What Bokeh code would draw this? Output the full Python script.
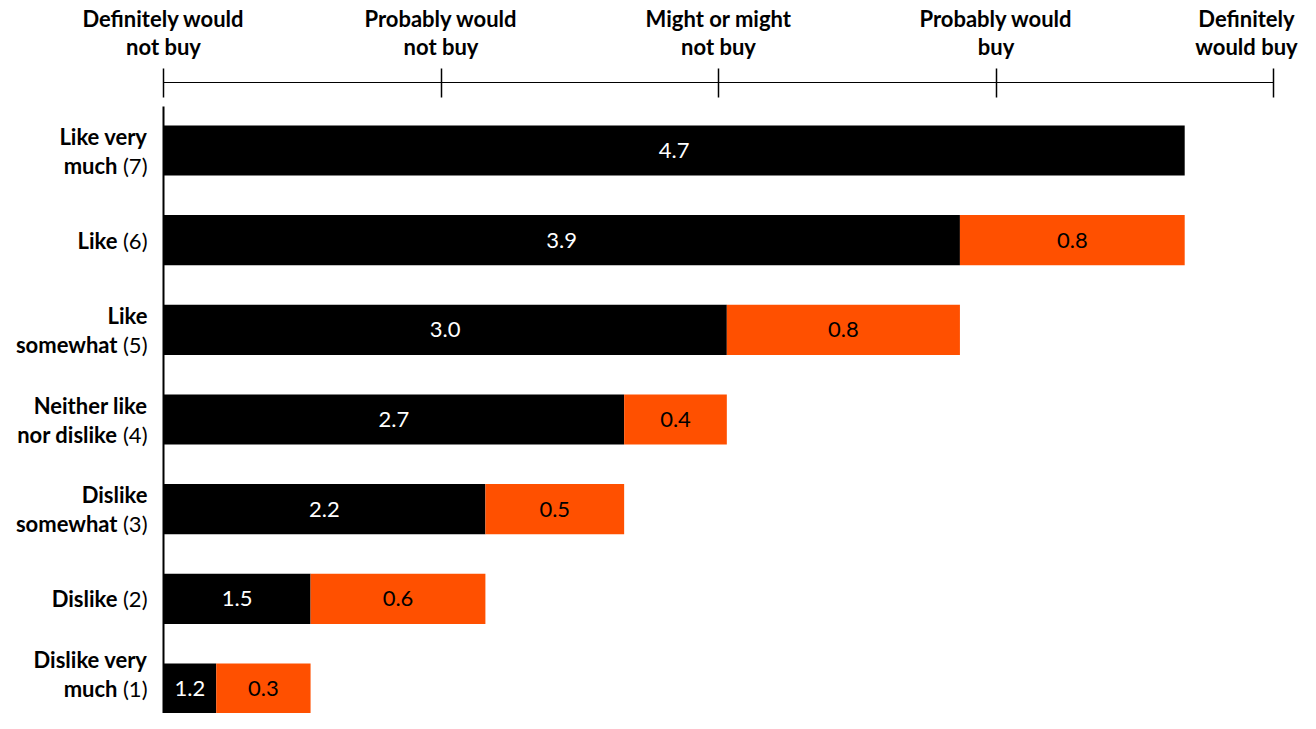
from bokeh.plotting import figure
from bokeh.models import Range1d, LinearAxis, FixedTicker, ColumnDataSource
from bokeh.core.properties import value
from bokeh.embed import file_html
from bokeh.resources import INLINE

# ---- data (bottom to top) ----
cat_lines = [["Dislike very", "much"], ["Dislike"], ["Dislike", "somewhat"],
             ["Neither like", "nor dislike"], ["Like", "somewhat"], ["Like"],
             ["Like very", "much"]]
cat_codes = ["(1)", "(2)", "(3)", "(4)", "(5)", "(6)", "(7)"]
mean_buy = [1.19, 1.53, 2.16, 2.66, 3.03, 3.87, 4.68]
gap_to_next = [0.34, 0.63, 0.50, 0.37, 0.84, 0.81, 0.0]
scale_ticks = [1, 2, 3, 4, 5]
scale_labels = [["Definitely would", "not buy"], ["Probably would", "not buy"],
                ["Might or might", "not buy"], ["Probably would", "buy"],
                ["Definitely", "would buy"]]

BLACK = "#000000"
ORANGE = "#FF5000"
FONT = "Lato"

# ---- geometry (screen layout, px) ----
W, H = 1300, 713
PX_PER_X = 277.5      # px per scale point
X0_PX = 163           # px of scale value 1
PX_PER_Y = 89.667     # px per category
TOP_CENTER_PX = 150   # px of top bar centre
AXIS_TOP_PX = 82
LEFT_AXIS_TOP_PX = 106

n = len(mean_buy)
ys = list(range(n))

x_start = 1 - X0_PX / PX_PER_X
x_end = 1 + (W - X0_PX) / PX_PER_X
y_end = (n - 1) + TOP_CENTER_PX / PX_PER_Y
y_start = y_end - H / PX_PER_Y
y_axis_top = y_end - AXIS_TOP_PX / PX_PER_Y
y_left_top = y_end - LEFT_AXIS_TOP_PX / PX_PER_Y

p = figure(width=W, height=H, output_backend="svg", toolbar_location=None,
           x_range=Range1d(x_start, x_end), y_range=Range1d(y_start, y_end),
           x_axis_location=None, y_axis_location=None,
           min_border=0, min_border_left=0, min_border_right=0,
           min_border_top=0, min_border_bottom=0)
p.outline_line_color = None
p.xgrid.visible = False
p.ygrid.visible = False

# top axis
top_axis = LinearAxis(ticker=FixedTicker(ticks=scale_ticks), fixed_location=y_axis_top,
                      bounds=(1, 5))
top_axis.axis_line_color = BLACK
top_axis.axis_line_width = 1
top_axis.major_tick_line_color = BLACK
top_axis.major_tick_line_width = 1.5
top_axis.major_tick_in = 15
top_axis.major_tick_out = 14
top_axis.minor_tick_line_color = None
top_axis.major_label_text_color = None
p.add_layout(top_axis, "above")

# left axis (line only)
left_axis = LinearAxis(ticker=FixedTicker(ticks=[]), fixed_location=1,
                       bounds=(y_start, y_left_top))
left_axis.axis_line_color = BLACK
left_axis.axis_line_width = 2
left_axis.major_tick_line_color = None
left_axis.minor_tick_line_color = None
left_axis.major_label_text_color = None
p.add_layout(left_axis, "left")

# bars
black_src = ColumnDataSource(dict(y=ys, left=[1] * n, right=mean_buy,
                                  xc=[(1 + m) / 2 for m in mean_buy],
                                  txt=[f"{m:.1f}" for m in mean_buy]))
p.hbar(y="y", left="left", right="right", height=0.56, source=black_src,
       fill_color=BLACK, line_color=None)

oi = [i for i in range(n) if gap_to_next[i] > 0]
orange_src = ColumnDataSource(dict(
    y=[ys[i] for i in oi],
    left=[mean_buy[i] for i in oi],
    right=[mean_buy[i] + gap_to_next[i] for i in oi],
    xc=[mean_buy[i] + gap_to_next[i] / 2 for i in oi],
    txt=[f"{gap_to_next[i]:.1f}" for i in oi]))
p.hbar(y="y", left="left", right="right", height=0.56, source=orange_src,
       fill_color=ORANGE, line_color=None)

p.text(x="xc", y="y", text="txt", source=black_src, text_color="white",
       text_font=value(FONT), text_font_size="22px", text_align="center",
       text_baseline="middle")
p.text(x="xc", y="y", text="txt", source=orange_src, text_color=BLACK,
       text_font=value(FONT), text_font_size="22px", text_align="center",
       text_baseline="middle")

# category labels
bold_rows = dict(x=[], y=[], t=[], xo=[], yo=[])
code_rows = dict(x=[], y=[], t=[], xo=[], yo=[])
for i in range(n):
    lines = cat_lines[i]
    k = len(lines)
    shift = -14.5 if (i == 0 and k > 1) else 0   # bottom label pushed up to fit
    for j, ln in enumerate(lines):
        off = -(k - 1) * 14.5 + j * 29 + shift
        last = (j == k - 1)
        bold_rows["x"].append(1); bold_rows["y"].append(ys[i]); bold_rows["t"].append(ln)
        bold_rows["xo"].append(-46 if last else -16); bold_rows["yo"].append(off)
        if last:
            code_rows["x"].append(1); code_rows["y"].append(ys[i]); code_rows["t"].append(cat_codes[i])
            code_rows["xo"].append(-16); code_rows["yo"].append(off)

p.text(x="x", y="y", text="t", x_offset="xo", y_offset="yo",
       source=ColumnDataSource(bold_rows), text_font=value(FONT), text_font_size="22px",
       text_font_style="bold", text_align="right", text_baseline="middle",
       text_color=BLACK)
p.text(x="x", y="y", text="t", x_offset="xo", y_offset="yo",
       source=ColumnDataSource(code_rows), text_font=value(FONT), text_font_size="22px",
       text_align="right", text_baseline="middle", text_color=BLACK)

# scale labels above the axis
top_rows = dict(x=[], y=[], t=[], xo=[], yo=[])
for t, lines in zip(scale_ticks, scale_labels):
    xo = -27 if t == scale_ticks[-1] else 0
    for j, ln in enumerate(lines):
        top_rows["x"].append(t); top_rows["y"].append(y_axis_top); top_rows["t"].append(ln)
        top_rows["xo"].append(xo); top_rows["yo"].append(-64 + j * 28)
p.text(x="x", y="y", text="t", x_offset="xo", y_offset="yo",
       source=ColumnDataSource(top_rows), text_font=value(FONT), text_font_size="22px",
       text_font_style="bold", text_align="center", text_baseline="middle",
       text_color=BLACK)

open("out.html", "w").write(file_html(p, INLINE))
